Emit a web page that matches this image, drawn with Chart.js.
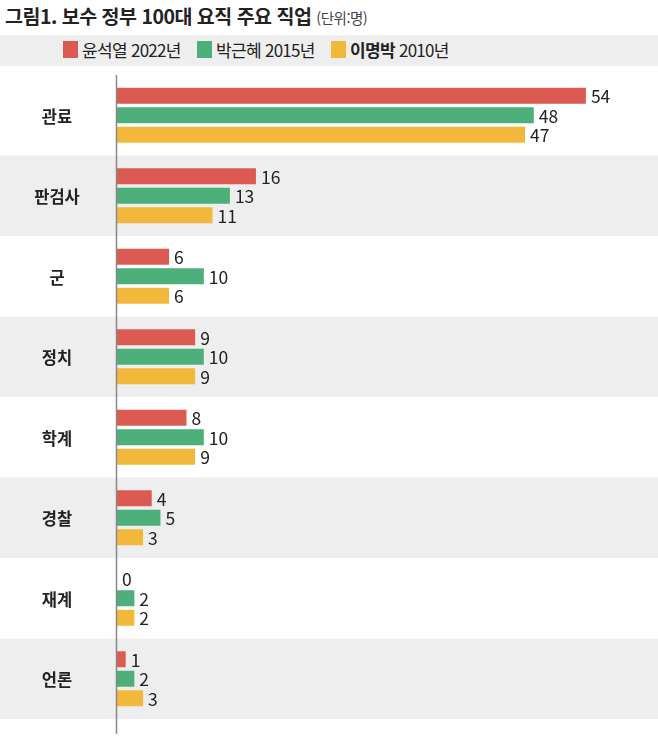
<!DOCTYPE html>
<html lang="ko">
<head>
<meta charset="utf-8">
<script src="https://cdn.jsdelivr.net/npm/chart.js@4"></script>
<style>
  html, body { margin: 0; padding: 0; background: #fff; }
  body { width: 658px; height: 740px; position: relative; overflow: hidden;
         font-family: 'Noto Sans CJK KR', 'Noto Sans', sans-serif; color: #222; }
  .title { position: absolute; left: 5px; top: 1px; font-size: 19.5px; font-weight: 700; letter-spacing: -0.5px; }
  .title small { font-size: 14.5px; font-weight: 400; color: #444; letter-spacing: -0.5px; }
  .legend { position: absolute; left: 0; top: 35px; width: 658px; height: 31px; background: #eeeeee;
            font-size: 17px; letter-spacing: -0.7px; }
  .legend span.sw { display: inline-block; width: 15px; height: 17px; margin-right: 4px; }
  .legend .item { display: flex; align-items: center; position: absolute; top: 2px; }
  .wrap { position: absolute; left: 0; top: 66px; width: 658px; height: 674px; }
</style>
</head>
<body>
<div class="title">그림1. 보수 정부 100대 요직 주요 직업 <small>(단위:명)</small></div>
<div class="legend" id="legend"></div>
<div class="wrap"><canvas id="jobChart"></canvas></div>
<script>
'use strict';

// ── Data ──────────────────────────────────────────────────────
const categories = ['관료', '판검사', '군', '정치', '학계', '경찰', '재계', '언론'];
const seriesNames = ['윤석열 2022년', '박근혜 2015년', '이명박 2010년'];
const yoon2022  = [54, 16, 6, 9, 8, 4, 0, 1];
const park2015  = [48, 13, 10, 10, 10, 5, 2, 2];
const lee2010   = [47, 11, 6, 9, 9, 3, 2, 3];

const COLORS = ['#db5b52', '#4daf79', '#f2b83c'];
const FONT = "'Noto Sans CJK KR', 'Noto Sans', sans-serif";

// ── HTML legend ───────────────────────────────────────────────
const legendX = [63, 197, 331];
const legendEl = document.getElementById('legend');
seriesNames.forEach((name, i) => {
  const item = document.createElement('div');
  item.className = 'item';
  item.style.left = legendX[i] + 'px';
  const parts = name.split(' ');
  item.innerHTML = `<span class="sw" style="background:${COLORS[i]}"></span>` +
    `<span${i === 2 ? ' style="font-weight:700"' : ''}>${parts[0]}</span>&nbsp;<span>${parts[1]}</span>`;
  legendEl.appendChild(item);
});

// ── Plugin: alternating bands, axis line, category + value labels
const bandPlugin = {
  id: 'bands',
  beforeDraw(chart) {
    const { ctx, chartArea, scales: { y } } = chart;
    const step = (chartArea.bottom - chartArea.top) / categories.length;
    ctx.save();
    ctx.fillStyle = '#eeeeee';
    categories.forEach((c, i) => {
      if (i % 2 === 1) {
        const top = y.getPixelForValue(i) - step / 2;
        ctx.fillRect(0, top, chart.width, step);
      }
    });
    ctx.restore();
  },
  afterDatasetsDraw(chart) {
    const { ctx, chartArea, scales: { y } } = chart;
    ctx.save();
    // category labels, centred in the left gutter
    ctx.fillStyle = '#222';
    ctx.textAlign = 'center';
    ctx.textBaseline = 'middle';
    ctx.font = `600 16.5px ${FONT}`;
    categories.forEach((c, i) => {
      ctx.fillText(c, 57, y.getPixelForValue(i) + 1);
    });

    // axis line
    ctx.strokeStyle = '#888';
    ctx.lineWidth = 1.5;
    ctx.beginPath();
    ctx.moveTo(chartArea.left - 0.5, chartArea.top);
    ctx.lineTo(chartArea.left - 0.5, chart.height - 6);
    ctx.stroke();

    // value labels
    ctx.textAlign = 'left';
    ctx.font = `17.5px ${FONT}`;
    chart.data.datasets.forEach((ds, di) => {
      chart.getDatasetMeta(di).data.forEach((bar, i) => {
        ctx.fillText(String(ds.data[i]), bar.x + 5, bar.y + 1);
      });
    });
    ctx.restore();
  },
};

// ── Chart ─────────────────────────────────────────────────────
const datasets = [yoon2022, park2015, lee2010].map((d, i) => ({
  label: seriesNames[i],
  data: d,
  backgroundColor: COLORS[i],
  borderWidth: 0,
  categoryPercentage: 0.727,
  barPercentage: 0.82,
}));

new Chart(document.getElementById('jobChart'), {
  type: 'bar',
  data: { labels: categories, datasets },
  plugins: [bandPlugin],
  options: {
    indexAxis: 'y',
    responsive: true,
    maintainAspectRatio: false,
    animation: false,
    layout: { padding: { top: 9, bottom: 21, right: 20, left: 0 } },
    plugins: { legend: { display: false }, tooltip: { enabled: false } },
    scales: {
      x: { display: false, min: 0, max: 60 },
      y: {
        grid: { display: false },
        border: { display: false },
        ticks: { display: false },
        afterFit(scale) { scale.width = 117; },
      },
    },
  },
});
</script>
</body>
</html>
